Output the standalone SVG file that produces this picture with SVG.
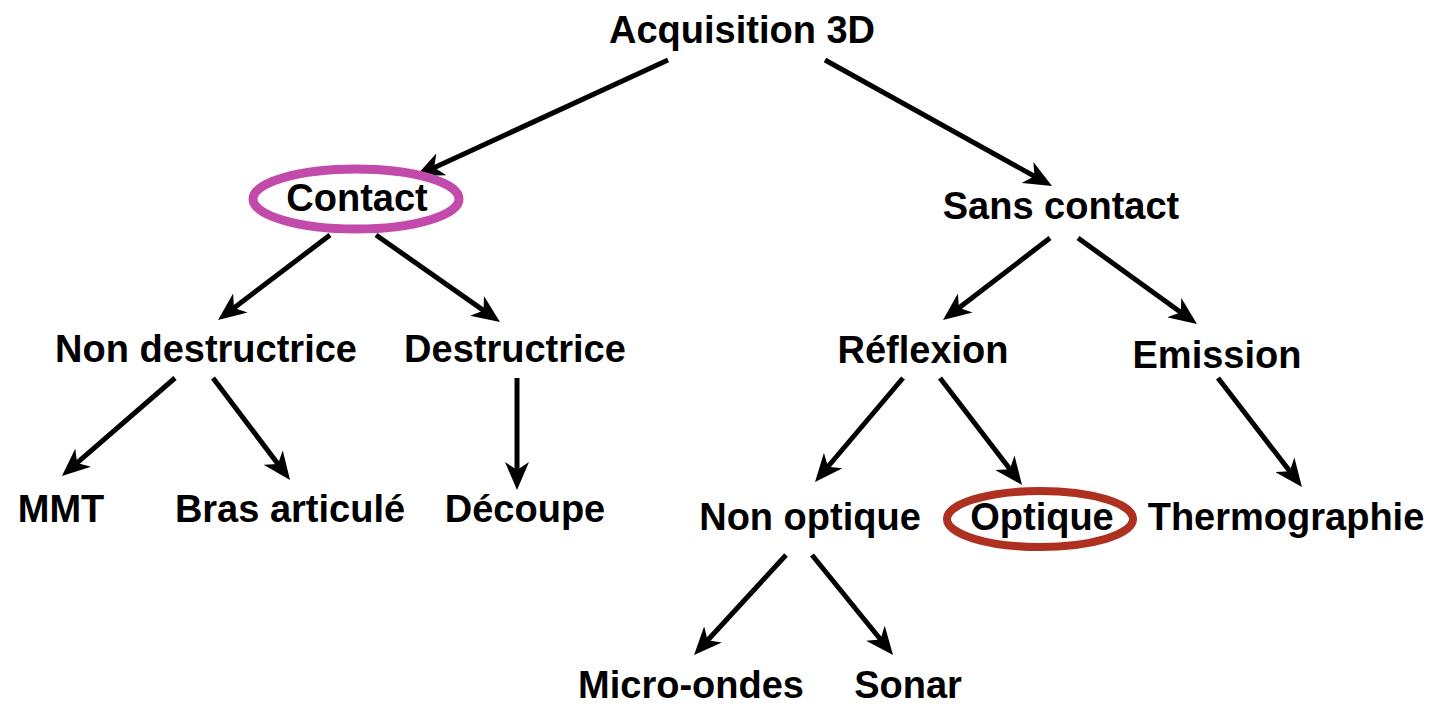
<svg xmlns="http://www.w3.org/2000/svg" width="1432" height="708" viewBox="0 0 1432 708">
  <defs>
    <style>
      .lbl { font-family: "Liberation Sans", Arial, sans-serif; font-weight: bold; font-size: 38px; fill: #000; text-anchor: middle; }
      .edge { stroke: #000; stroke-width: 5; fill: none; marker-end: url(#arr); }
    </style>
    <marker id="arr" markerUnits="userSpaceOnUse" markerWidth="28" markerHeight="24" viewBox="0 0 28 24" refX="13" refY="12" orient="auto">
      <polygon points="0,0 28,12 0,24 8,12" fill="#000"/>
    </marker>
  </defs>
  <rect width="1432" height="708" fill="#fff"/>

  <g id="connectors">
    <line class="edge" x1="668" y1="60" x2="429.6" y2="169.7"/>
    <line class="edge" x1="825" y1="60" x2="1038.9" y2="178.7"/>
    <line class="edge" x1="330" y1="235" x2="230" y2="310.9"/>
    <line class="edge" x1="376" y1="235" x2="487.7" y2="313.4"/>
    <line class="edge" x1="1050" y1="238" x2="954.9" y2="310.9"/>
    <line class="edge" x1="1078" y1="238" x2="1184.8" y2="315.2"/>
    <line class="edge" x1="175" y1="378" x2="73.3" y2="466.2"/>
    <line class="edge" x1="213" y1="378" x2="281" y2="468"/>
    <line class="edge" x1="517" y1="378" x2="517" y2="475"/>
    <line class="edge" x1="903" y1="378" x2="824.7" y2="470.5"/>
    <line class="edge" x1="940" y1="378" x2="1012.9" y2="473.1"/>
    <line class="edge" x1="1218" y1="378" x2="1292.8" y2="475.1"/>
    <line class="edge" x1="786" y1="555" x2="704.2" y2="644"/>
    <line class="edge" x1="812" y1="555" x2="883.6" y2="643.3"/>
  </g>

  <g id="n-acquisition"><text class="lbl" x="742" y="43">Acquisition 3D</text></g>
  <g id="n-contact">
    <ellipse cx="356" cy="199" rx="103" ry="30" fill="none" stroke="#c24aaa" stroke-width="9"/>
    <text class="lbl" x="357" y="211">Contact</text>
  </g>
  <g id="n-sans-contact"><text class="lbl" x="1061" y="219">Sans contact</text></g>
  <g id="n-non-destructrice"><text class="lbl" x="206" y="362">Non destructrice</text></g>
  <g id="n-destructrice"><text class="lbl" x="515" y="362">Destructrice</text></g>
  <g id="n-reflexion"><text class="lbl" x="923" y="363">Réflexion</text></g>
  <g id="n-emission"><text class="lbl" x="1217" y="368">Emission</text></g>
  <g id="n-mmt"><text class="lbl" x="61" y="522">MMT</text></g>
  <g id="n-bras"><text class="lbl" x="290" y="522">Bras articulé</text></g>
  <g id="n-decoupe"><text class="lbl" x="525" y="522">Découpe</text></g>
  <g id="n-non-optique"><text class="lbl" x="810" y="530">Non optique</text></g>
  <g id="n-optique">
    <ellipse cx="1040" cy="519" rx="93" ry="28" fill="none" stroke="#ad3020" stroke-width="8"/>
    <text class="lbl" x="1042" y="530">Optique</text>
  </g>
  <g id="n-thermographie"><text class="lbl" x="1286" y="530">Thermographie</text></g>
  <g id="n-micro-ondes"><text class="lbl" x="691" y="698">Micro-ondes</text></g>
  <g id="n-sonar"><text class="lbl" x="908" y="698">Sonar</text></g>
</svg>
